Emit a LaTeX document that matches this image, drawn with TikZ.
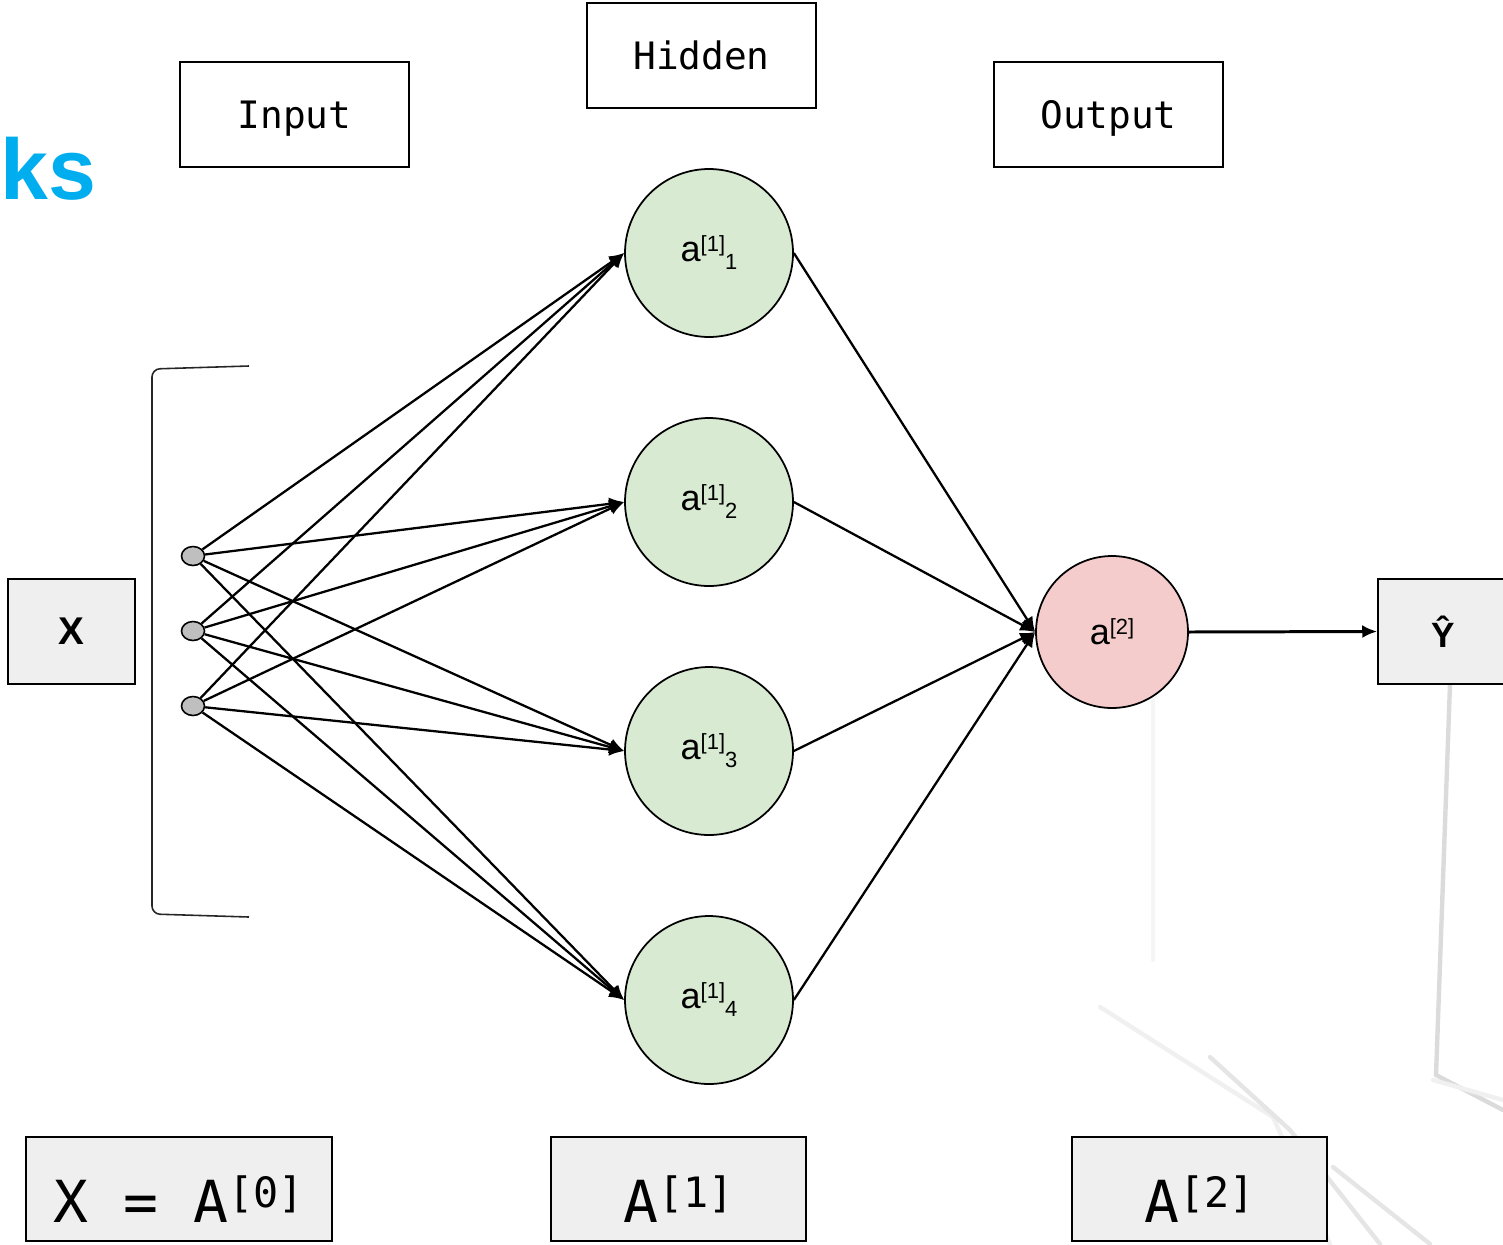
\documentclass[tikz,border=0pt]{standalone}
\usepackage{fontspec}
\setsansfont{Liberation Sans}
\setmonofont{DejaVu Sans Mono}
\usetikzlibrary{arrows.meta,shapes.geometric}
\definecolor{hidfill}{HTML}{D9EAD3}
\definecolor{outfill}{HTML}{F4CCCC}
\definecolor{boxfill}{HTML}{EFEFEF}
\definecolor{dotfill}{HTML}{BFBFBF}
\definecolor{netblue}{HTML}{00AEEF}
\newcommand{\layersup}[1]{\raisebox{0.29cm}{\fontsize{23.8}{26}\selectfont #1}}
\newcommand{\unitsup}[1]{\raisebox{0.2cm}{\fontsize{12.5}{14}\selectfont[#1]}}
\newcommand{\unitsub}[1]{\raisebox{-0.16cm}{\fontsize{12.5}{14}\selectfont #1}}
\begin{document}
\begin{tikzpicture}[x=0.02cm,y=-0.02cm,
  lbl/.style={draw,line width=0.9pt,minimum width=4.58cm,minimum height=2.1cm,
    font=\ttfamily\fontsize{21.5}{26}\selectfont,text height=0.56cm,text depth=0pt},
  gbox/.style={draw,fill=boxfill,line width=0.9pt,minimum height=2.1cm,
    font=\sffamily\bfseries\fontsize{22}{26}\selectfont},
  layerbox/.style={draw,fill=boxfill,line width=0.9pt,minimum height=2.08cm,
    font=\ttfamily\fontsize{33}{40}\selectfont,text height=1.32cm,text depth=0pt},
  dot/.style={ellipse,draw,fill=dotfill,line width=0.9pt,minimum width=0.46cm,
    minimum height=0.38cm,inner sep=0pt},
  hid/.style={circle,draw,fill=hidfill,line width=1pt,minimum size=3.36cm,
    inner sep=0pt,font=\sffamily\fontsize{20.5}{22}\selectfont},
  outn/.style={circle,draw,fill=outfill,line width=1pt,minimum size=3.04cm,
    inner sep=0pt,font=\sffamily\fontsize{20.5}{22}\selectfont},
  arr/.style={-{Latex[length=0.3cm,width=0.26cm]},line width=1.3pt},
  bgline/.style={line width=2.5pt,black!10,line cap=round}]
\useasboundingbox (0,0) rectangle (1503,1244);

\draw[bgline,black!14] (1453,600) -- (1436,1075) -- (1503,1110);
\draw[bgline,black!6] (1100,1007) -- (1273,1117) -- (1330,1244);
\draw[bgline] (1210,1057) -- (1290,1130) -- (1380,1244);
\draw[bgline] (1333,1167) -- (1430,1244);
\draw[bgline,black!6] (1433,1080) -- (1503,1100);
\draw[bgline,black!4] (1153,700) -- (1153,960);

\node[anchor=base east,inner sep=0pt,text=netblue,font=\sffamily\bfseries\fontsize{49}{52}\selectfont] (title) at (97,199) {ks};

\node[lbl] (input) at (294.5,114.5) {Input};
\node[lbl] (hidden) at (701.5,55.5) {Hidden};
\node[lbl] (output) at (1108.5,114.5) {Output};

\node[gbox,minimum width=2.54cm] (x) at (71.5,631.5) {X};
\node[gbox,minimum width=2.6cm,font=\sffamily\bfseries\fontsize{20}{24}\selectfont] (yhat) at (1443,631.5) {Ŷ};

\draw[line width=0.9pt,black!85,rounded corners=0.16cm] (249,366) -- (152,369) -- (152,914) -- (249,917);

\foreach \i/\y in {1/556,2/631,3/706}
  \node[dot] (in\i) at (193,\y) {};
\foreach \j/\y in {1/253,2/502,3/751,4/1000}
  \node[hid] (h\j) at (709,\y) {a\unitsup{1}\unitsub{\j}};
\node[outn] (out) at (1112,632) {a\unitsup{2}};

\foreach \i in {1,2,3}
  \foreach \j in {1,...,4}
    \draw[arr] (in\i) -- (h\j.west);
\foreach \j in {1,...,4}
  \draw[arr] (h\j.east) -- (out.west);
\draw[arr,line width=1.7pt] (out.east) -- (yhat.west);

\node[layerbox,minimum width=6.12cm] (a0) at (179,1189) {X = A\layersup{[0]}};
\node[layerbox,minimum width=5.1cm] (a1) at (678.5,1189) {A\layersup{[1]}};
\node[layerbox,minimum width=5.1cm] (a2) at (1199.5,1189) {A\layersup{[2]}};
\end{tikzpicture}
\end{document}
